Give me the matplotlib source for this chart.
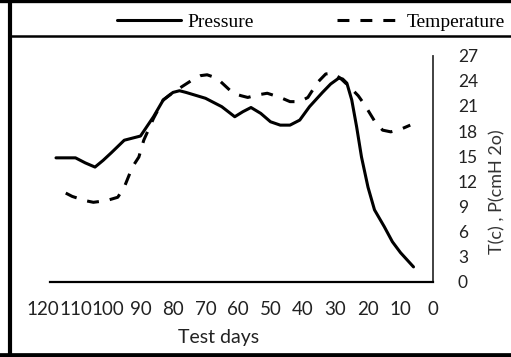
import matplotlib
matplotlib.use("Agg")
import matplotlib.pyplot as plt
from matplotlib.lines import Line2D

# Pressure readings (cmH2O) by test day
pressure_days = [116, 110, 107, 104, 101.5, 99, 95, 90, 86, 83, 80, 78, 76, 70,
                 65, 61, 58.5, 56, 53, 50, 47, 44, 41, 38, 34, 31.5, 29, 27.8,
                 26.5, 25, 23.5, 22, 20, 18, 15, 12.5, 10, 6]
pressure_vals = [14.8, 14.8, 14.2, 13.7, 14.5, 15.4, 16.9, 17.4, 19.7, 21.7,
                 22.6, 22.8, 22.6, 21.9, 20.9, 19.7, 20.3, 20.8, 20.1, 19.1,
                 18.7, 18.7, 19.3, 20.9, 22.6, 23.6, 24.3, 24.2, 23.7, 21.7,
                 18.5, 14.9, 11.3, 8.6, 6.6, 4.8, 3.5, 1.8]

# Temperature readings (C) by test day
temp_days = [113, 111, 107, 104.5, 100.5, 97, 95, 92.5, 90.5, 89, 86, 83, 80,
             74, 71.5, 69.5, 66.5, 64, 61.5, 59, 57, 54, 51, 47, 44, 41, 38.5,
             35.5, 33, 31, 28.5, 25.5, 23, 21, 18, 15.5, 13, 10, 7]
temp_vals = [10.6, 10.2, 9.7, 9.5, 9.7, 10.1, 11.3, 13.7, 14.9, 16.9, 19.5,
             21.7, 22.6, 24.1, 24.6, 24.7, 24.3, 23.4, 22.5, 22.2, 22.0, 22.3,
             22.5, 22.0, 21.5, 21.5, 22.0, 23.8, 24.8, 24.9, 24.3, 23.2, 22.2,
             21.1, 19.2, 18.1, 17.9, 18.2, 18.7]

x_ticks = list(range(0, 121, 10))
y_ticks = list(range(0, 28, 3))

W, H = 511, 357
fig = plt.figure(figsize=(W / 100, H / 100), dpi=100)
fig.patch.set_facecolor("white")

ax = fig.add_axes([43 / W, 75 / H, 390 / W, 226.5 / H])
lw = 2.2
dash = (0, (3.9, 3.6))
l1, = ax.plot(pressure_days, pressure_vals, color="black", lw=lw,
              solid_capstyle="round", solid_joinstyle="round", label="Pressure")
l2, = ax.plot(temp_days, temp_vals, color="black", lw=lw, linestyle=dash,
              dash_joinstyle="round", label="Temperature")

ax.set_xlim(120, 0)
ax.set_ylim(0, 27)
ax.set_xticks(x_ticks)
ax.set_yticks(y_ticks)
ax.yaxis.tick_right()
ax.tick_params(axis="both", length=0)
ax.tick_params(axis="x", pad=14)
ax.tick_params(axis="y", pad=18)
for lab in ax.get_xticklabels():
    lab.set_fontfamily("Lato")
    lab.set_fontsize(13.5)
    lab.set_color("#222222")
for lab in ax.get_yticklabels():
    lab.set_fontfamily("Lato")
    lab.set_fontsize(12.5)
    lab.set_color("#222222")

ax.spines["top"].set_visible(False)
ax.spines["left"].set_visible(False)
ax.spines["right"].set_color("#333333")
ax.spines["right"].set_linewidth(1.3)
ax.spines["bottom"].set_linewidth(1.6)
ax.spines["bottom"].set_bounds(117.8, 0)

fig.text(219 / W, 1 - 337 / H, "Test days", fontfamily="Lato", fontsize=14,
         color="#222222", ha="center", va="center")
fig.text(497 / W, 1 - 192 / H, "T(c) , P(cmH 2o)", fontfamily="Lato",
         fontsize=13, color="#333333", rotation=90, ha="center", va="center")

leg = fig.legend(handles=[l1, l2], loc="center left",
                 bbox_to_anchor=(117 / W, 1 - 22 / H), ncol=2, frameon=False,
                 borderpad=0, borderaxespad=0, handlelength=3.3,
                 handletextpad=0.3, columnspacing=4.3,
                 prop={"family": "Liberation Serif", "size": 14})

# outer frame and the rule under the legend row
frame_kw = dict(color="black", transform=fig.transFigure, clip_on=False)
fig.add_artist(Line2D([10 / W, 10 / W], [0, 1], lw=3.0, **frame_kw))
fig.add_artist(Line2D([0, 1], [1 - 1 / H, 1 - 1 / H], lw=2.4, **frame_kw))
fig.add_artist(Line2D([0, 1], [1 - 354.5 / H, 1 - 354.5 / H], lw=3.4, **frame_kw))
fig.add_artist(Line2D([10 / W, 1], [1 - 36 / H, 1 - 36 / H], lw=1.8, **frame_kw))

fig.savefig("out.png", dpi=100, facecolor="white")
